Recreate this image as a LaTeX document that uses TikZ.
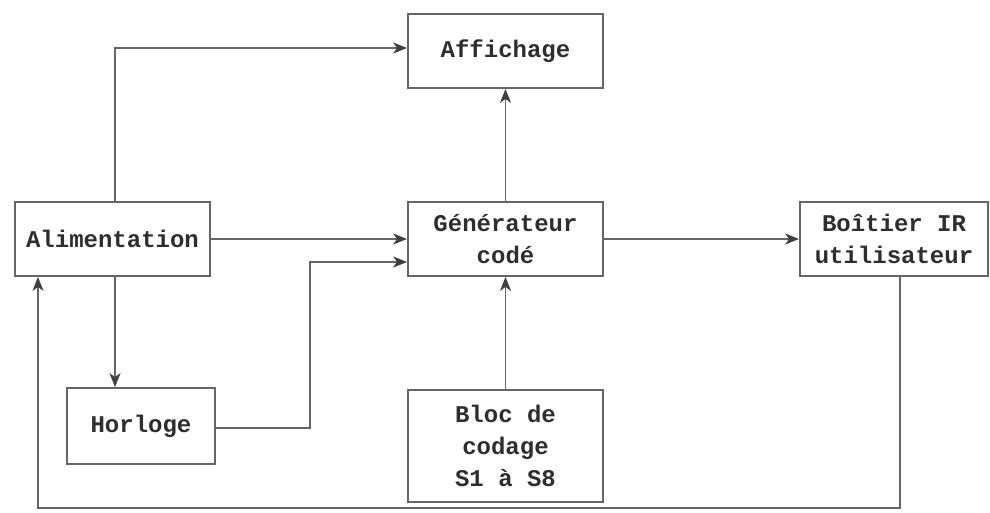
\documentclass[tikz,border=0pt]{standalone}
\usepackage{fontspec}
\setmonofont{Liberation Mono}
\usetikzlibrary{arrows.meta}
\definecolor{linegray}{HTML}{666666}
\definecolor{txtgray}{HTML}{2E2E2E}
\definecolor{tipgray}{HTML}{404040}
\begin{document}
\begin{tikzpicture}[x=0.5pt,y=-0.5pt,
  block/.style={draw=linegray, line width=0.9pt, fill=white, text=txtgray,
    font=\fontsize{12}{16}\selectfont\ttfamily\bfseries, align=center,
    inner sep=0pt},
  conn/.style={draw=linegray, line width=0.9pt,
    -{Stealth[length=7pt,width=5.5pt,inset=2pt,color=tipgray]}}]
\useasboundingbox (0,0) rectangle (990,513);

% blocks
\node[block, minimum width=97.5pt, minimum height=37pt] (aff) at (505.5,51) {Affichage};
\node[block, minimum width=97.5pt, minimum height=37pt] (alim) at (112.5,239) {Alimentation};
\node[block, minimum width=97.5pt, minimum height=37pt] (gen) at (505.5,239) {Générateur\\codé};
\node[block, minimum width=94pt, minimum height=37pt] (boit) at (894,239) {Boîtier IR\\utilisateur};
\node[block, minimum width=74pt, minimum height=38pt] (horl) at (141,426) {Horloge};
\node[block, minimum width=97.5pt, minimum height=56pt] (bloc) at (505.5,446) {Bloc de\\codage\\S1 à S8};

% corner points of the routed connectors
\coordinate (c1) at (115,48);
\coordinate (c2) at (310,428);
\coordinate (c3) at (310,262);
\coordinate (c4) at (900,508);
\coordinate (c5) at (38,508);

% connectors
\draw[conn] (alim.north -| c1) -- (c1) -- (c1 -| aff.west);
\draw[conn] (alim.east) -- (gen.west);
\draw[conn] (horl.east |- c2) -- (c2) -- (c3) -- (c3 -| gen.west);
\draw[conn] (alim.south -| c1) -- (c1 |- horl.north);
\draw[conn] (gen.north) -- (aff.south);
\draw[conn] (gen.east) -- (boit.west);
\draw[conn] (bloc.north) -- (gen.south);
\draw[conn] (boit.south -| c4) -- (c4) -- (c5) -- (c5 |- alim.south);
\end{tikzpicture}
\end{document}
